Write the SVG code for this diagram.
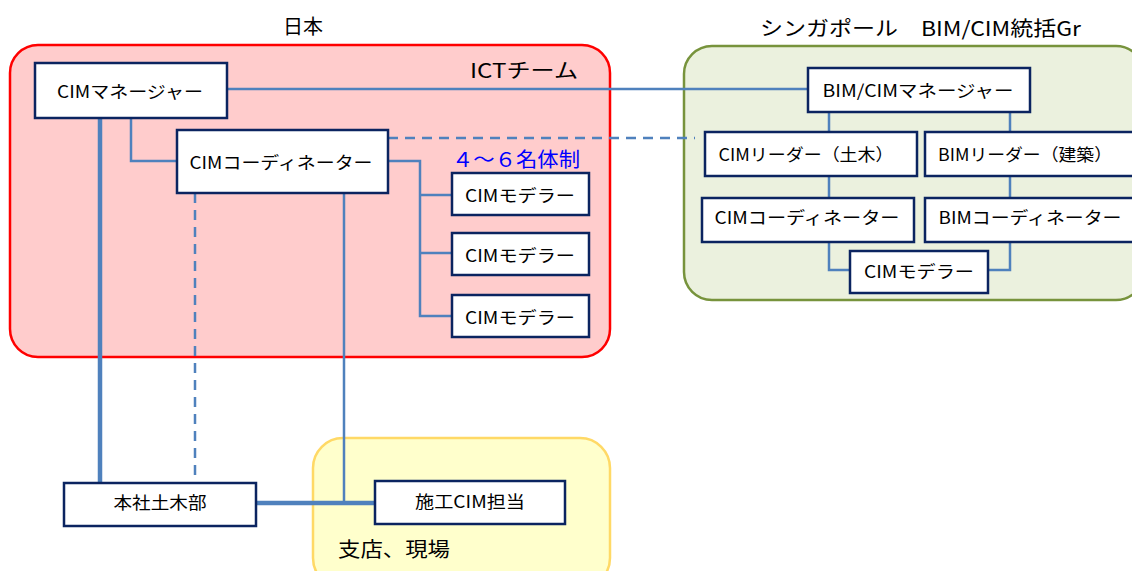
<svg xmlns="http://www.w3.org/2000/svg" width="1132" height="571" viewBox="0 0 1132 571">
<style>
text{font-family:"Noto Sans CJK JP","Noto Sans",sans-serif;fill:#000}
.box{fill:#fff;stroke:#0B2460;stroke-width:2.5}
.t{font-size:17px;text-anchor:middle;dominant-baseline:central}
.c{fill:none;stroke:#4F81BD;stroke-width:2.5}
.thick{stroke-width:4.5}
.dash{stroke-dasharray:10 7}
.lbl{font-size:20px}
</style>
<rect x="0" y="0" width="1132" height="571" fill="#fff"/>
<g id="japan">
<rect x="10" y="45" width="600" height="312" rx="28" fill="#FFCCCC" stroke="#FF0000" stroke-width="2.5"/>
<text class="lbl" x="283" y="34" textLength="40" lengthAdjust="spacingAndGlyphs">日本</text>
<text class="lbl" x="470" y="78" textLength="108" lengthAdjust="spacingAndGlyphs">ICTチーム</text>
<text x="452" y="167" font-size="20" style="fill:#0000FF" textLength="128" lengthAdjust="spacingAndGlyphs">４～６名体制</text>
</g>
<g id="singapore">
<rect x="684" y="46" width="460" height="254" rx="28" fill="#EBF1DE" stroke="#77933C" stroke-width="2.5"/>
<text class="lbl" x="760" y="36" textLength="321" lengthAdjust="spacingAndGlyphs">シンガポール　BIM/CIM統括Gr</text>
</g>
<g id="branch">
<rect x="313" y="438" width="297" height="150" rx="30" fill="#FFFFCC" stroke="#FFD966" stroke-width="2.5"/>
<text class="lbl" x="338" y="557" textLength="112" lengthAdjust="spacingAndGlyphs">支店、現場</text>
</g>
<g id="connectors">
<path class="c" d="M227 89H808"/>
<path class="c dash" d="M388 138H695"/>
<path class="c" d="M131 118V161H177"/>
<path class="c" d="M388 161H420V316H452M420 195H452M420 253H452"/>
<path class="c thick" d="M100 118V483"/>
<path class="c dash" d="M195 193V483"/>
<path class="c" d="M344 193V502"/>
<path class="c thick" d="M256 503H375"/>
<path class="c" d="M829 112V132M1010 112V132M829 176V198M1010 176V198M829 242V270H850M1010 242V270H988"/>
</g>
<g id="n-cim-manager"><rect class="box" x="35" y="63" width="192" height="55"/><text class="t" x="130" y="90" textLength="146" lengthAdjust="spacingAndGlyphs">CIMマネージャー</text></g>
<g id="n-cim-coord"><rect class="box" x="177" y="130" width="211" height="63"/><text class="t" x="281" y="161" textLength="183" lengthAdjust="spacingAndGlyphs">CIMコーディネーター</text></g>
<g id="n-modeler1"><rect class="box" x="452" y="173" width="137" height="42"/><text class="t" x="520" y="194" textLength="110" lengthAdjust="spacingAndGlyphs">CIMモデラー</text></g>
<g id="n-modeler2"><rect class="box" x="452" y="233" width="137" height="42"/><text class="t" x="520" y="254" textLength="110" lengthAdjust="spacingAndGlyphs">CIMモデラー</text></g>
<g id="n-modeler3"><rect class="box" x="452" y="295" width="137" height="42"/><text class="t" x="520" y="316" textLength="110" lengthAdjust="spacingAndGlyphs">CIMモデラー</text></g>
<g id="n-honsha"><rect class="box" x="64" y="483" width="192" height="43"/><text class="t" x="160" y="501" textLength="93" lengthAdjust="spacingAndGlyphs">本社土木部</text></g>
<g id="n-seko"><rect class="box" x="375" y="481" width="190" height="43"/><text class="t" x="470" y="500" textLength="110" lengthAdjust="spacingAndGlyphs">施工CIM担当</text></g>
<g id="n-sg-manager"><rect class="box" x="808" y="68" width="222" height="44"/><text class="t" x="918" y="89" textLength="191" lengthAdjust="spacingAndGlyphs">BIM/CIMマネージャー</text></g>
<g id="n-sg-cim-leader"><rect class="box" x="705" y="132" width="212" height="44"/><text class="t" x="806" y="153" textLength="175" lengthAdjust="spacingAndGlyphs">CIMリーダー（土木）</text></g>
<g id="n-sg-bim-leader"><rect class="box" x="925" y="132" width="213" height="44"/><text class="t" x="1025" y="153" textLength="174" lengthAdjust="spacingAndGlyphs">BIMリーダー（建築）</text></g>
<g id="n-sg-cim-coord"><rect class="box" x="702" y="198" width="212" height="44"/><text class="t" x="807" y="216" textLength="185" lengthAdjust="spacingAndGlyphs">CIMコーディネーター</text></g>
<g id="n-sg-bim-coord"><rect class="box" x="925" y="198" width="213" height="44"/><text class="t" x="1030" y="216" textLength="183" lengthAdjust="spacingAndGlyphs">BIMコーディネーター</text></g>
<g id="n-sg-modeler"><rect class="box" x="850" y="251" width="138" height="42"/><text class="t" x="919" y="270" textLength="110" lengthAdjust="spacingAndGlyphs">CIMモデラー</text></g>
</svg>
